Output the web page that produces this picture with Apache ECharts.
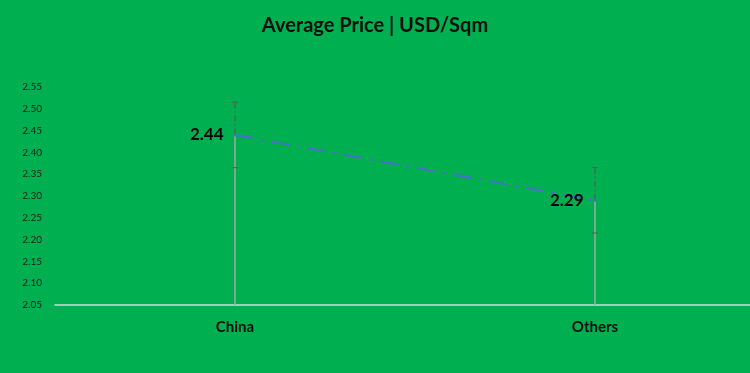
<!DOCTYPE html>
<html><head><meta charset="utf-8">
<script src="https://cdn.jsdelivr.net/npm/echarts@6/dist/echarts.min.js"></script>
<style>html,body{margin:0;padding:0;background:#00B050}#c{width:750px;height:373px}</style>
</head><body><div id="c"></div>
<script>
var categories = ['China', 'Others'];
var prices = [2.44, 2.29];
var errPlus = [0.075, 0.075];
var errMinus = [0.075, 0.075];
var yTicks = { min: 2.05, max: 2.55, step: 0.05 };

var chart = echarts.init(document.getElementById('c'));
var font = 'Lato, "Open Sans", sans-serif';
var errData = categories.map(function (c, i) { return [i, prices[i] - errMinus[i], prices[i] + errPlus[i], prices[i]]; });

chart.setOption({
  backgroundColor: '#00B050',
  animation: false,
  title: {
    text: 'Average Price | USD/Sqm', left: 'center', top: 11,
    textStyle: { fontFamily: font, fontWeight: 'bold', fontSize: 20, color: '#0d0d0d' }
  },
  grid: { left: 55, width: 720, top: 87, bottom: 68, outerBoundsMode: 'none', containLabel: false },
  xAxis: {
    type: 'category', data: categories, boundaryGap: true,
    axisLine: { lineStyle: { color: '#d9d9d9', width: 1.5 } },
    axisTick: { show: false },
    axisLabel: { fontFamily: font, fontWeight: 'bold', fontSize: 15, color: '#0d0d0d', margin: 15 }
  },
  yAxis: {
    type: 'value', min: yTicks.min, max: yTicks.max, interval: yTicks.step,
    axisLine: { show: false }, axisTick: { show: false }, splitLine: { show: false },
    axisLabel: { fontFamily: font, fontSize: 10, color: '#1a1a1a', margin: 13,
      formatter: function (v) { return v.toFixed(2); } }
  },
  series: [
    {
      type: 'custom', data: errData, z: 1,
      renderItem: function (params, api) {
        var x = api.value(0);
        var lo = api.coord([x, api.value(1)]);
        var hi = api.coord([x, api.value(2)]);
        var mid = api.coord([x, api.value(3)]);
        var base = api.coord([x, yTicks.min]);
        var dark = '#595959';
        return { type: 'group', children: [
          { type: 'line', shape: { x1: mid[0], y1: mid[1], x2: base[0], y2: base[1] }, style: { stroke: '#a6a6a6', lineWidth: 1.5 } },
          { type: 'line', shape: { x1: hi[0], y1: hi[1], x2: mid[0], y2: mid[1] }, style: { stroke: dark, lineWidth: 1.2, lineDash: [6, 3, 1, 3] } },
          { type: 'line', shape: { x1: hi[0] - 3, y1: hi[1], x2: hi[0] + 3, y2: hi[1] }, style: { stroke: dark, lineWidth: 1 } },
          { type: 'line', shape: { x1: lo[0] - 3, y1: lo[1], x2: lo[0] + 3, y2: lo[1] }, style: { stroke: dark, lineWidth: 1 } }
        ] };
      }
    },
    {
      type: 'line', data: prices, z: 3,
      symbol: 'circle', symbolSize: 3,
      itemStyle: { color: '#4472C4' },
      lineStyle: { color: '#4472C4', width: 2.2, type: [18, 8, 3, 8] },
      label: { show: true, position: 'left', distance: 10, fontFamily: font, fontWeight: 'bold', fontSize: 17, color: '#000',
        formatter: function (p) { return p.value.toFixed(2); } }
    }
  ]
});
</script></body></html>
